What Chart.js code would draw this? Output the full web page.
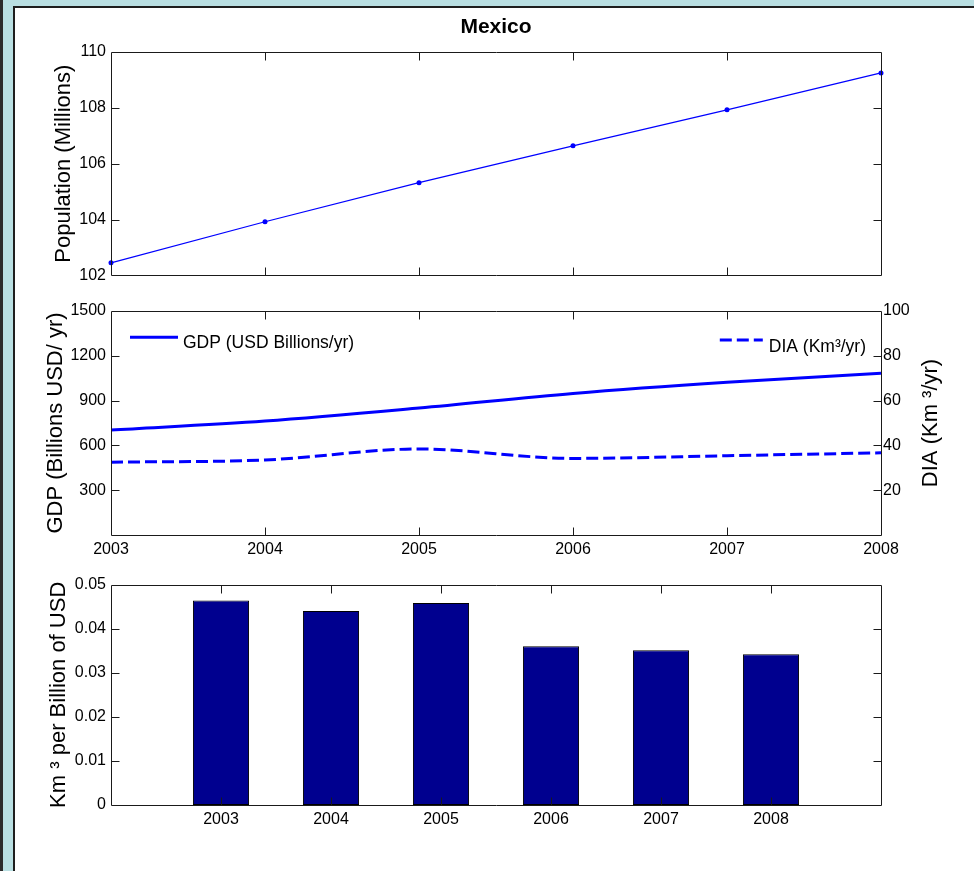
<!DOCTYPE html>
<html>
<head>
<meta charset="utf-8">
<title>Mexico</title>
<script src="https://cdn.jsdelivr.net/npm/chart.js@4/dist/chart.umd.min.js"></script>
<style>
  html, body { margin: 0; padding: 0; width: 974px; height: 871px; overflow: hidden; background: #fff; }
  .bg { position: absolute; left: 0; top: 0; width: 974px; height: 871px; background: #b9dfe2; }
  .edge { position: absolute; left: 0; top: 0; width: 3px; height: 871px; background: #2b2b2b; }
  .sheet { position: absolute; left: 13px; top: 6px; width: 961px; height: 865px; background: #fff;
           border-left: 2px solid #1e1e1e; border-top: 2px solid #1e1e1e; box-sizing: border-box; }
  .panel { position: absolute; left: 0; width: 974px; }
</style>
</head>
<body>
<div class="bg"></div>
<div class="edge"></div>
<div class="sheet"></div>
<div class="panel" style="top:0;height:290px"><canvas id="popChart"></canvas></div>
<div class="panel" style="top:290px;height:280px"><canvas id="gdpChart"></canvas></div>
<div class="panel" style="top:570px;height:301px"><canvas id="ratioChart"></canvas></div>
<script>
// ---- data ----
const years = [2003, 2004, 2005, 2006, 2007, 2008];
const population = [102.45, 103.92, 105.32, 106.64, 107.93, 109.25];      // millions
const gdp = [703, 763, 850, 948, 1023, 1083];                              // USD billions / yr
const dia = [32.5, 33.5, 38.4, 34.2, 35.4, 36.7];                          // km^3 / yr
const intensity = [0.0464, 0.0440, 0.0458, 0.0360, 0.0351, 0.0342];        // km^3 per billion USD

const popTicks = [102, 104, 106, 108, 110];
const gdpTicks = [300, 600, 900, 1200, 1500];
const diaTicks = [20, 40, 60, 80, 100];
const intensityTicks = [0, 0.01, 0.02, 0.03, 0.04, 0.05];

const chartTitle = 'Mexico';
const popTitle = 'Population (Millions)';
const gdpTitle = 'GDP (Billions USD/ yr)';
const diaTitle = 'DIA (Km \u00b3/yr)';
const intensityTitle = 'Km \u00b3 per Billion of USD';
const gdpLabel = 'GDP (USD Billions/yr)';
const diaLabel = 'DIA (Km\u00b3/yr)';

// ---- styling ----
const FONT = "'Liberation Sans', Arial, sans-serif";
const AXIS = '#1a1a1a';
const BLUE = '#0000ff';
const tickFont = { family: FONT, size: 16 };
const titleFont = { family: FONT, size: 22 };
const legendSize = 17.5;

Chart.defaults.color = '#000';
Chart.defaults.font.family = FONT;

const asText = v => String(v);
const setTicks = arr => scale => { scale.ticks = arr.map(v => ({ value: v })); };
const fixWidth = w => scale => { scale.width = w; };
const fixHeight = h => scale => { scale.height = h; };
const pts = (xs, ys) => xs.map((x, i) => ({ x: x, y: ys[i] }));

// Box around the plot area with inward tick marks on all four sides
const boxTicks = {
  id: 'boxTicks',
  afterDatasetsDraw(chart, args, o) {
    const { ctx, chartArea: a } = chart;
    const L = 8;
    const px = v => Math.round(v) + 0.5;
    const l = px(a.left), r = px(a.right), t = px(a.top), b = px(a.bottom);
    ctx.save();
    ctx.strokeStyle = AXIS;
    ctx.lineWidth = 1;
    ctx.beginPath();
    ctx.rect(l, t, r - l, b - t);
    const xs = chart.scales.x;
    (o.xTicks || []).forEach(v => {
      const x = px(xs.getPixelForValue(v));
      if (x <= l + 1 || x >= r - 1) return;
      ctx.moveTo(x, t); ctx.lineTo(x, t + L);
      ctx.moveTo(x, b); ctx.lineTo(x, b - L);
    });
    const side = (spec, fromX, dir) => {
      if (!spec) return;
      const s = chart.scales[spec.axis];
      spec.values.forEach(v => {
        const y = px(s.getPixelForValue(v));
        if (y <= t + 1 || y >= b - 1) return;
        ctx.moveTo(fromX, y); ctx.lineTo(fromX + dir * L, y);
      });
    };
    side(o.left, l, 1);
    side(o.right, r, -1);
    ctx.stroke();
    ctx.restore();
  }
};

// Two separate legend entries inside the plot area (left and right corners)
const cornerLegend = {
  id: 'cornerLegend',
  afterDatasetsDraw(chart, args, o) {
    if (!o.items) return;
    const { ctx, chartArea: a } = chart;
    ctx.save();
    ctx.font = legendSize + 'px ' + FONT;
    ctx.textBaseline = 'alphabetic';
    o.items.forEach(it => {
      const ds = chart.data.datasets[it.dataset];
      const tw = ctx.measureText(ds.label).width;
      let x0, x1, tx;
      if (it.side === 'left') {
        x0 = a.left + 19; x1 = x0 + 48; tx = x1 + 5;
      } else {
        tx = a.right - 15 - tw; x1 = tx - 6; x0 = x1 - 43;
      }
      ctx.strokeStyle = ds.borderColor;
      ctx.lineWidth = ds.borderWidth;
      ctx.setLineDash(ds.borderDash || []);
      ctx.beginPath();
      ctx.moveTo(x0, a.top + it.lineY);
      ctx.lineTo(x1, a.top + it.lineY);
      ctx.stroke();
      ctx.setLineDash([]);
      ctx.fillStyle = '#000';
      ctx.fillText(ds.label, tx, a.top + it.textY);
    });
    ctx.restore();
  }
};

// Right-hand axis title, reading bottom-to-top
const rightTitle = {
  id: 'rightTitle',
  afterDraw(chart, args, o) {
    if (!o.axis) return;
    const s = chart.scales[o.axis];
    const a = chart.chartArea;
    const { ctx } = chart;
    ctx.save();
    ctx.translate(a.right + o.offset, (a.top + a.bottom) / 2);
    ctx.rotate(-Math.PI / 2);
    ctx.font = titleFont.size + 'px ' + titleFont.family;
    ctx.fillStyle = '#000';
    ctx.textAlign = 'center';
    ctx.textBaseline = 'middle';
    ctx.fillText(s.options.title.text, 0, 0);
    ctx.restore();
  }
};

const common = {
  responsive: true,
  maintainAspectRatio: false,
  animation: false,
  devicePixelRatio: 1,
  events: []
};

const noGrid = { display: false, drawTicks: false };
const noBorder = { display: false };

// ---- top: population ----
new Chart(document.getElementById('popChart'), {
  type: 'line',
  data: {
    datasets: [{
      label: popTitle,
      data: pts(years, population),
      borderColor: BLUE,
      backgroundColor: BLUE,
      borderWidth: 1.2,
      pointRadius: 2.5,
      pointStyle: 'circle',
      pointBorderWidth: 0,
      clip: false
    }]
  },
  options: Object.assign({}, common, {
    layout: { padding: { top: 0, left: 0, right: 93, bottom: 14 } },
    plugins: {
      legend: { display: false },
      tooltip: { enabled: false },
      title: {
        display: true, text: chartTitle, fullSize: false,
        font: { family: FONT, size: 21, weight: 'bold' },
        color: '#000',
        padding: { top: 14.6, bottom: 12.2 }
      },
      boxTicks: { xTicks: years, left: { axis: 'y', values: popTicks }, right: { axis: 'y', values: popTicks } }
    },
    scales: {
      x: { type: 'linear', min: 2003, max: 2008, display: false },
      y: {
        type: 'linear', position: 'left', min: 102, max: 110,
        afterBuildTicks: setTicks(popTicks), afterFit: fixWidth(111),
        grid: noGrid, border: noBorder,
        ticks: { font: tickFont, padding: 5, callback: asText },
        title: { display: true, text: popTitle, font: titleFont, padding: { top: 50.9, bottom: 0 } }
      }
    }
  }),
  plugins: [boxTicks]
});

// ---- middle: GDP and DIA ----
new Chart(document.getElementById('gdpChart'), {
  type: 'line',
  data: {
    datasets: [{
      label: gdpLabel,
      data: pts(years, gdp),
      yAxisID: 'y',
      borderColor: BLUE,
      borderWidth: 3,
      pointRadius: 0,
      cubicInterpolationMode: 'monotone'
    }, {
      label: diaLabel,
      data: pts(years, dia),
      yAxisID: 'y1',
      borderColor: BLUE,
      borderWidth: 3,
      borderDash: [12, 5],
      pointRadius: 0,
      cubicInterpolationMode: 'monotone'
    }]
  },
  options: Object.assign({}, common, {
    layout: { padding: { top: 21, left: 0, right: 0, bottom: 0 } },
    plugins: {
      legend: { display: false },
      tooltip: { enabled: false },
      boxTicks: { xTicks: years, left: { axis: 'y', values: gdpTicks }, right: { axis: 'y1', values: diaTicks } },
      cornerLegend: { items: [
        { dataset: 0, side: 'left', lineY: 26.3, textY: 37 },
        { dataset: 1, side: 'right', lineY: 29, textY: 41 }
      ] },
      rightTitle: { axis: 'y1', offset: 49.7 }
    },
    scales: {
      x: {
        type: 'linear', min: 2003, max: 2008,
        afterBuildTicks: setTicks(years), afterFit: fixHeight(35),
        grid: noGrid, border: noBorder,
        ticks: { font: tickFont, padding: 5, maxRotation: 0, autoSkip: false, callback: asText }
      },
      y: {
        type: 'linear', position: 'left', min: 0, max: 1500,
        afterBuildTicks: setTicks(gdpTicks), afterFit: fixWidth(111),
        grid: noGrid, border: noBorder,
        ticks: { font: tickFont, padding: 5, callback: asText },
        title: { display: true, text: gdpTitle, font: titleFont, padding: { top: 43.2, bottom: 0 } }
      },
      y1: {
        type: 'linear', position: 'right', min: 0, max: 100,
        afterBuildTicks: setTicks(diaTicks), afterFit: fixWidth(93),
        grid: noGrid, border: noBorder,
        ticks: { font: tickFont, padding: 2, callback: asText },
        title: { display: false, text: diaTitle }
      }
    }
  }),
  plugins: [boxTicks, cornerLegend, rightTitle]
});

// ---- bottom: water per unit of GDP ----
new Chart(document.getElementById('ratioChart'), {
  type: 'bar',
  data: {
    datasets: [{
      label: intensityTitle,
      data: pts(years, intensity),
      backgroundColor: '#00008f',
      borderColor: '#000',
      borderWidth: 1,
      borderSkipped: false,
      categoryPercentage: 1,
      barPercentage: 0.51
    }]
  },
  options: Object.assign({}, common, {
    layout: { padding: { top: 10, left: 0, right: 93, bottom: 0 } },
    plugins: {
      legend: { display: false },
      tooltip: { enabled: false },
      boxTicks: { xTicks: years, left: { axis: 'y', values: intensityTicks }, right: { axis: 'y', values: intensityTicks } }
    },
    scales: {
      x: {
        type: 'linear', min: 2002, max: 2009, offset: false,
        afterBuildTicks: setTicks(years), afterFit: fixHeight(66),
        grid: noGrid, border: noBorder,
        ticks: { font: tickFont, padding: 5, maxRotation: 0, autoSkip: false, callback: asText }
      },
      y: {
        type: 'linear', position: 'left', min: 0, max: 0.05,
        afterBuildTicks: setTicks(intensityTicks), afterFit: fixWidth(111),
        grid: noGrid, border: noBorder,
        ticks: { font: tickFont, padding: 5, callback: asText },
        title: { display: true, text: intensityTitle, font: titleFont, padding: { top: 45.8, bottom: 0 } }
      }
    }
  }),
  plugins: [boxTicks]
});
</script>
</body>
</html>
